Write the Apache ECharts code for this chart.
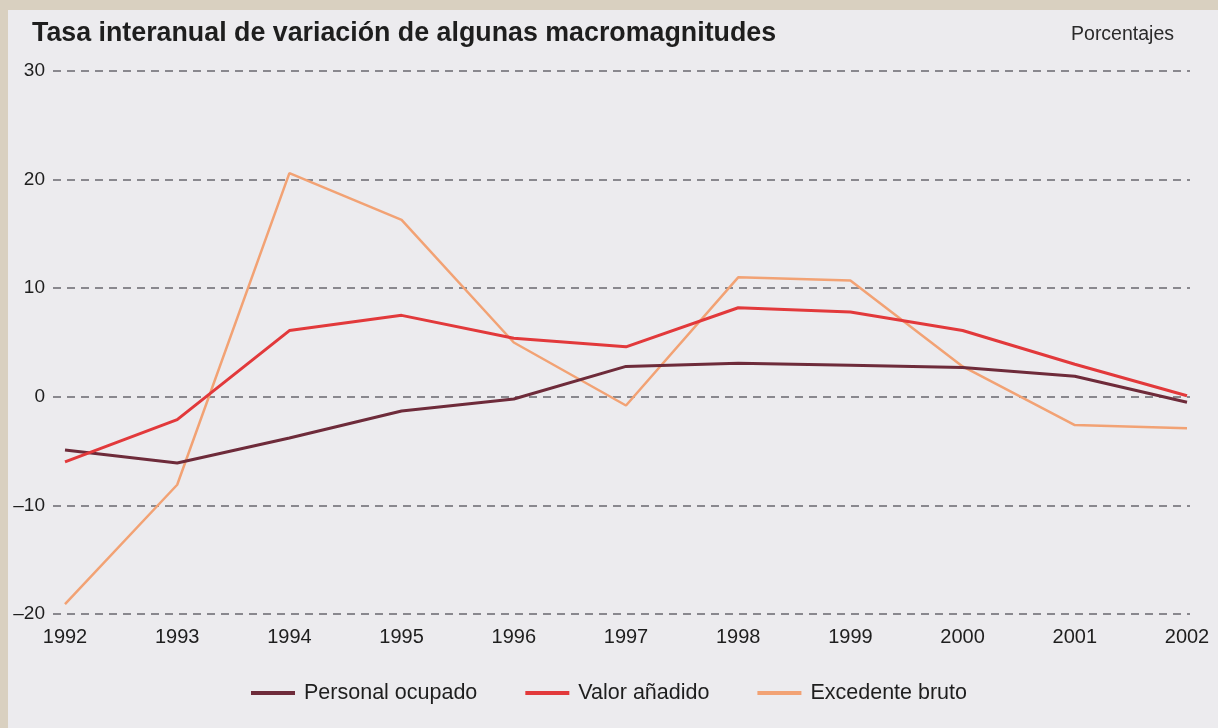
<!DOCTYPE html>
<html>
<head>
<meta charset="utf-8">
<style>
  html, body { margin: 0; padding: 0; background: #d9d0c0; }
  #chart { width: 1218px; height: 728px; }
</style>
<script src="https://cdn.jsdelivr.net/npm/echarts@6/dist/echarts.min.js"></script>
</head>
<body>
<div id="chart"></div>
<script>
const years = ['1992','1993','1994','1995','1996','1997','1998','1999','2000','2001','2002'];
const personalOcupado = [-4.9, -6.1, -3.8, -1.3, -0.2, 2.8, 3.1, 2.9, 2.7, 1.9, -0.5];
const valorAnadido    = [-6.0, -2.1, 6.1, 7.5, 5.4, 4.6, 8.2, 7.8, 6.1, 3.0, 0.1];
const excedenteBruto  = [-19.1, -8.1, 20.6, 16.3, 5.0, -0.8, 11.0, 10.7, 2.8, -2.6, -2.9];
const seriesNames = ['Personal ocupado', 'Valor añadido', 'Excedente bruto'];
const yMin = -20, yMax = 30, yStep = 10;

const font = "'Liberation Sans', Arial, sans-serif";
const chart = echarts.init(document.getElementById('chart'), null, { renderer: 'canvas' });

chart.setOption({
  animation: false,
  backgroundColor: '#d9d0c0',
  textStyle: { fontFamily: font },
  graphic: [{
    type: 'rect', z: -10, silent: true,
    shape: { x: 8, y: 10, width: 1210, height: 718 },
    style: { fill: '#ecebee' }
  }],
  title: [{
    text: 'Tasa interanual de variación de algunas macromagnitudes',
    left: 27, top: 15,
    textStyle: { fontFamily: font, fontSize: 26.8, fontWeight: 'bold', color: '#1e1e1e' }
  }, {
    text: 'Porcentajes',
    right: 39, top: 20,
    textStyle: { fontFamily: font, fontSize: 19.5, fontWeight: 'normal', color: '#2a2a2a' }
  }],
  legend: {
    bottom: 19,
    left: 'center',
    itemWidth: 44, itemHeight: 4, itemGap: 48,
    icon: 'rect',
    textStyle: { fontFamily: font, fontSize: 21.5, color: '#1e1e1e', padding: [0, 0, 0, 4] },
    data: seriesNames
  },
  grid: [
    { left: 65, right: 31, top: 71, bottom: 114 },
    { left: 53, right: 28, top: 71, bottom: 114 }
  ],
  xAxis: [{
    type: 'category', gridIndex: 0, data: years, boundaryGap: false,
    axisLine: { show: false }, axisTick: { show: false },
    axisLabel: { fontFamily: font, fontSize: 20, color: '#1e1e1e', margin: 13 },
    splitLine: { show: false }
  }, {
    type: 'value', gridIndex: 1, min: 0, max: 1, show: false
  }],
  yAxis: [{
    type: 'value', gridIndex: 0, min: yMin, max: yMax, interval: yStep,
    show: false, splitLine: { show: false }
  }, {
    type: 'value', gridIndex: 1, min: yMin, max: yMax, interval: yStep,
    axisLine: { show: false }, axisTick: { show: false },
    axisLabel: {
      fontFamily: font, fontSize: 19, color: '#1e1e1e', margin: 8,
      formatter: v => v < 0 ? '\u2013' + Math.abs(v) : String(v)
    },
    splitLine: { show: true, lineStyle: { color: '#68686f', width: 1.6, type: [8, 6] } }
  }],
  series: [{
    name: seriesNames[0], type: 'line', data: personalOcupado,
    xAxisIndex: 0, yAxisIndex: 0, symbol: 'none', z: 3,
    color: '#6e2b3a', lineStyle: { color: '#6e2b3a', width: 3 }
  }, {
    name: seriesNames[1], type: 'line', data: valorAnadido,
    xAxisIndex: 0, yAxisIndex: 0, symbol: 'none', z: 4,
    color: '#e2393b', lineStyle: { color: '#e2393b', width: 3 }
  }, {
    name: seriesNames[2], type: 'line', data: excedenteBruto,
    xAxisIndex: 0, yAxisIndex: 0, symbol: 'none', z: 2,
    color: '#f2a274', lineStyle: { color: '#f2a274', width: 2.5 }
  }]
});
</script>
</body>
</html>
